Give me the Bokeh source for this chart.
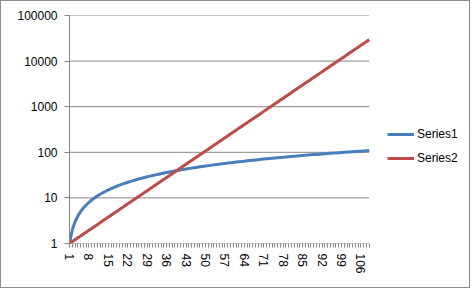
from bokeh.plotting import figure
from bokeh.models import Range1d, FixedTicker, PrintfTickFormatter, Legend, LegendItem, ColumnDataSource
from bokeh.embed import file_html
from bokeh.resources import INLINE

categories = list(range(1, 110))
series1 = [1, 2, 3, 4, 5, 6, 7, 8, 9, 10, 11, 12, 13, 14, 15, 16, 17, 18, 19, 20,
           21, 22, 23, 24, 25, 26, 27, 28, 29, 30, 31, 32, 33, 34, 35, 36, 37, 38, 39, 40,
           41, 42, 43, 44, 45, 46, 47, 48, 49, 50, 51, 52, 53, 54, 55, 56, 57, 58, 59, 60,
           61, 62, 63, 64, 65, 66, 67, 68, 69, 70, 71, 72, 73, 74, 75, 76, 77, 78, 79, 80,
           81, 82, 83, 84, 85, 86, 87, 88, 89, 90, 91, 92, 93, 94, 95, 96, 97, 98, 99, 100,
           101, 102, 103, 104, 105, 106, 107, 108, 109]
series2 = [1, 1.1, 1.21, 1.33, 1.46, 1.61, 1.77, 1.95, 2.14, 2.36,
           2.59, 2.85, 3.14, 3.45, 3.80, 4.18, 4.60, 5.05, 5.56, 6.12,
           6.73, 7.40, 8.14, 8.95, 9.85, 10.8, 11.9, 13.1, 14.4, 15.9,
           17.4, 19.2, 21.1, 23.2, 25.5, 28.1, 30.9, 34.0, 37.4, 41.1,
           45.3, 49.8, 54.8, 60.2, 66.3, 72.9, 80.2, 88.2, 97.0, 107,
           117, 129, 142, 156, 172, 189, 208, 229, 252, 277,
           304, 335, 368, 405, 446, 490, 539, 593, 653, 718,
           790, 869, 956, 1051, 1156, 1272, 1399, 1539, 1693, 1862,
           2048, 2253, 2479, 2727, 2999, 3299, 3629, 3992, 4391, 4830,
           5313, 5844, 6429, 7072, 7779, 8557, 9413, 10354, 11389, 12528,
           13781, 15159, 16675, 18342, 20176, 22194, 24413, 26855, 29540]
y_ticks = [1, 10, 100, 1000, 10000, 100000]
x_tick_labels = ["1", "8", "15", "22", "29", "36", "43", "50", "57", "64", "71", "78", "85", "92", "99", "106"]
series_names = ["Series1", "Series2"]
colors = ["#4A7EBB", "#BE4B48"]
grid_color = "#868686"

# layout: plot area spans 299 px for the data, 100 px more on the right hold the legend
x0, x1 = categories[0], categories[-1]
x_end = x1 + (x1 - x0) * 100.0 / 299.0

src = ColumnDataSource(dict(x=categories, s1=series1, s2=series2))
grid_src = ColumnDataSource(dict(x0=[x0] * len(y_ticks), x1=[x1] * len(y_ticks), y=y_ticks))

p = figure(width=470, height=288, y_axis_type="log", output_backend="svg", toolbar_location=None,
           x_range=Range1d(x0, x_end), y_range=Range1d(1, 100000),
           min_border_left=68, min_border_right=2, min_border_top=14, min_border_bottom=46)
p.styles = {"border": "1px solid #8c8c8c"}
p.outline_line_color = None
p.background_fill_color = "white"
p.border_fill_color = "white"

p.segment(x0="x0", x1="x1", y0="y", y1="y", source=grid_src, line_color=grid_color, line_width=1)

r1 = p.line("x", "s1", source=src, line_color=colors[0], line_width=3)
r2 = p.line("x", "s2", source=src, line_color=colors[1], line_width=3)

font = "Liberation Sans"
# y axis
p.yaxis.ticker = FixedTicker(ticks=y_ticks, minor_ticks=[])
p.yaxis.formatter = PrintfTickFormatter(format="%d")
p.yaxis.axis_line_color = grid_color
p.yaxis.major_tick_line_color = grid_color
p.yaxis.major_tick_out = 5
p.yaxis.major_tick_in = 0
p.yaxis.minor_tick_line_color = None
p.yaxis.major_label_standoff = 7
p.yaxis.major_label_text_font = font
p.yaxis.major_label_text_font_size = "12px"
p.yaxis.major_label_text_color = "black"

# x axis
p.xaxis.ticker = FixedTicker(ticks=categories, minor_ticks=[])
overrides = {c: "" for c in categories}
for lab in x_tick_labels:
    overrides[int(lab)] = lab
p.xaxis.major_label_overrides = overrides
p.xaxis.major_label_orientation = "vertical"
p.xaxis.axis_line_color = None
p.xaxis.major_tick_line_color = grid_color
p.xaxis.major_tick_out = 4
p.xaxis.major_tick_in = 0
p.xaxis.minor_tick_line_color = None
p.xaxis.major_label_standoff = 6
p.xaxis.major_label_text_font = font
p.xaxis.major_label_text_font_size = "12px"
p.xaxis.major_label_text_color = "black"

p.xgrid.grid_line_color = None
p.ygrid.grid_line_color = None

legend = Legend(items=[LegendItem(label=series_names[0], renderers=[r1]),
                       LegendItem(label=series_names[1], renderers=[r2])],
                location=(318, 75), orientation="vertical")
legend.border_line_color = None
legend.background_fill_alpha = 0
legend.padding = 0
legend.margin = 0
legend.spacing = 4
legend.glyph_width = 27
legend.glyph_height = 20
legend.label_height = 20
legend.label_standoff = 3
legend.label_text_font = font
legend.label_text_font_size = "12px"
legend.label_text_color = "black"
p.add_layout(legend, "center")

open("out.html", "w").write(file_html(p, INLINE))
